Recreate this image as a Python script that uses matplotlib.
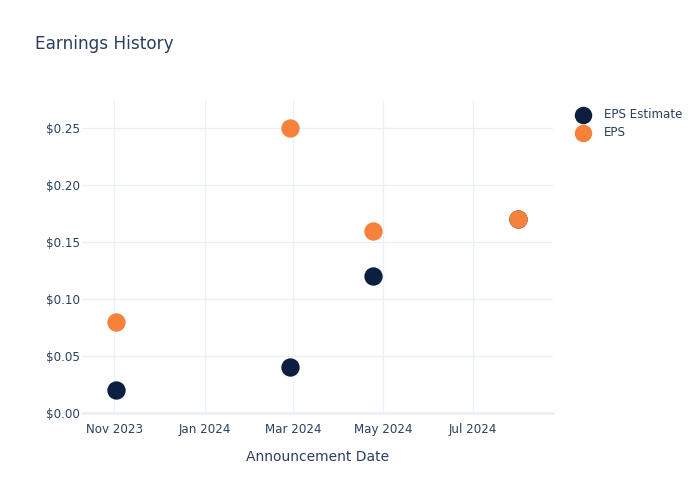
import matplotlib
matplotlib.use("Agg")
import matplotlib.pyplot as plt
import matplotlib.dates as mdates
from matplotlib.ticker import FuncFormatter
import pandas as pd

dates = ["2023-11-02", "2024-02-28", "2024-04-24", "2024-07-31"]
eps_estimate = [0.02, 0.04, 0.12, 0.17]
eps_actual = [0.08, 0.25, 0.16, 0.17]
xtick_dates = ["2023-11-01", "2024-01-01", "2024-03-01", "2024-05-01", "2024-07-01"]
xtick_labels = ["Nov 2023", "Jan 2024", "Mar 2024", "May 2024", "Jul 2024"]
yticks = [0.0, 0.05, 0.10, 0.15, 0.20, 0.25]

plt.rcParams['font.family'] = ['DejaVu Sans']
text_color = '#2a3f5f'
grid_color = '#ebf0f8'

fig = plt.figure(figsize=(7, 5), dpi=100)
ax = fig.add_axes([82/700, 1 - 413/500, (553-82)/700, (413-100)/500])

d = pd.to_datetime(dates)
ax.scatter(d, eps_estimate, s=175, color='#0c1f40', label='EPS Estimate', zorder=3, linewidths=0)
ax.scatter(d, eps_actual, s=175, color='#f5813a', label='EPS', zorder=4, linewidths=0)

ax.set_xlim(pd.Timestamp("2023-10-10"), pd.Timestamp("2024-08-24"))
ax.set_ylim(0, 0.2746)

ax.set_xticks(pd.to_datetime(xtick_dates))
ax.set_xticklabels(xtick_labels)
ax.set_yticks(yticks)
ax.yaxis.set_major_formatter(FuncFormatter(lambda v, p: f"${v:.2f}"))

ax.grid(True, color=grid_color, linewidth=1)
ax.set_axisbelow(True)
for s in ['top', 'right', 'left']:
    ax.spines[s].set_visible(False)
ax.spines['bottom'].set_color(grid_color)
ax.spines['bottom'].set_linewidth(2)
ax.tick_params(axis='both', length=0, colors=text_color, labelsize=8.6)
ax.tick_params(axis='x', pad=7)
ax.tick_params(axis='y', pad=1.5)

ax.set_xlabel("Announcement Date", color=text_color, fontsize=10, labelpad=10)
fig.text(35/700, 1 - 44/500, "Earnings History", color=text_color, fontsize=12.2, va='center', ha='left')

leg = ax.legend(loc='upper left', bbox_to_anchor=(1.028, 0.99), frameon=False,
                fontsize=8.6, labelcolor=text_color, handletextpad=0.75,
                borderaxespad=0, markerscale=0.95, labelspacing=0.42)

fig.savefig("out.png", dpi=100)
